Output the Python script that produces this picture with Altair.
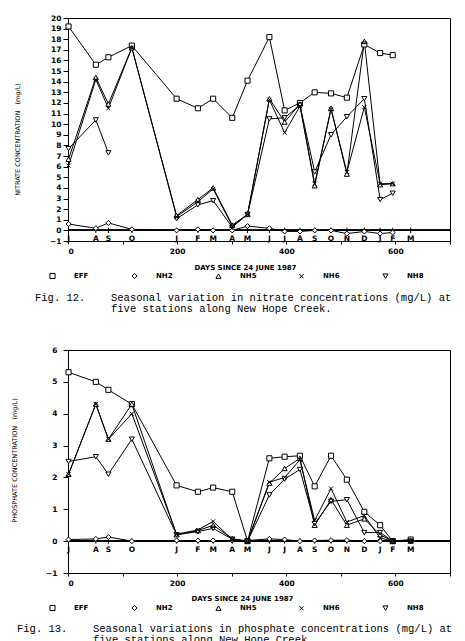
import altair as alt
import pandas as pd

# ---------------- data ----------------
DAYS = [1, 51, 74, 117, 199, 238, 266, 301, 329, 369, 397, 425, 452, 482, 511, 543, 572, 595, 628]
MONTHS = ["J", "A", "S", "O", "J", "F", "M", "A", "M", "J", "J", "A", "S", "O", "N", "D", "J", "F", "M"]
SERIES = ["EFF", "NH2", "NH5", "NH6", "NH8"]
N = None

NITRATE_EFF = [19.2, 15.6, 16.3, 17.4, 12.4, 11.5, 12.4, 10.6, 14.1, 18.2, 11.3, 12.0, 13.0, 12.9, 12.5, 17.5, 16.7, 16.5, N]
NITRATE_NH2 = [0.6, 0.2, 0.7, 0.1, 0.0, 0.1, 0.0, 0.0, 0.4, 0.2, -0.1, -0.1, 0.0, 0.0, -0.3, -0.1, -0.3, -0.2, N]
NITRATE_NH5 = [6.7, 14.4, 11.9, 17.2, 1.4, 2.9, 4.0, 0.5, 1.5, 12.4, 10.2, 11.9, 4.2, 11.5, 5.3, 17.8, 4.3, 4.4, N]
NITRATE_NH6 = [6.1, 14.2, 11.5, 17.2, 1.3, 2.7, 3.9, 0.4, 1.5, 12.3, 9.2, 11.7, 4.4, 11.4, 5.5, 11.6, 4.4, 4.4, N]
NITRATE_NH8 = [7.7, 10.4, 7.3, N, 1.1, 2.4, 2.8, 0.3, 1.5, 10.5, 10.6, 11.8, 5.5, 9.0, 10.7, 12.4, 2.9, 3.5, N]

PHOS_EFF = [5.3, 5.0, 4.75, 4.3, 1.75, 1.55, 1.68, 1.55, 0.0, 2.6, 2.65, 2.68, 1.72, 2.68, 1.93, 0.92, 0.5, 0.0, 0.05]
PHOS_NH2 = [0.05, 0.07, 0.13, 0.0, 0.02, 0.02, 0.02, 0.02, 0.02, 0.07, 0.05, 0.0, 0.02, 0.03, 0.03, 0.0, 0.0, 0.0, 0.0]
PHOS_NH5 = [2.1, 4.3, 3.2, 4.3, 0.2, 0.33, 0.5, 0.08, 0.0, 1.82, 2.28, 2.6, 0.5, 1.3, 0.5, 0.7, 0.2, 0.0, 0.0]
PHOS_NH6 = [2.1, 4.3, 3.2, 4.0, 0.22, 0.35, 0.62, 0.05, 0.0, 1.85, 2.0, 2.55, 0.65, 1.65, 0.6, 0.8, 0.1, 0.0, 0.0]
PHOS_NH8 = [2.5, 2.65, 2.1, 3.2, 0.2, 0.3, 0.4, 0.06, 0.0, 1.45, 1.95, 2.25, 0.55, 1.25, 1.3, 0.27, 0.27, 0.0, 0.0]

X_TITLE = "DAYS SINCE 24 JUNE 1987"
NITRATE_TITLE = "NITRATE CONCENTRATION\u00a0\u00a0\u00a0(mg/L)"
PHOS_TITLE = "PHOSPHATE CONCENTRATION\u00a0\u00a0\u00a0(mg/L)"
CAP12 = ["Fig. 12.", "Seasonal variation in nitrate concentrations (mg/L) at", "five stations along New Hope Creek."]
CAP13 = ["Fig. 13.", "Seasonal variations in phosphate concentrations (mg/L) at", "five stations along New Hope Creek."]


def long_frame(lists):
    rows = []
    for name, vals in zip(SERIES, lists):
        seg = 0
        for d, v in zip(DAYS, vals):
            if v is None:
                seg += 1
                continue
            rows.append({"day": d, "value": v, "series": name, "seg": f"{name}-{seg}"})
    return pd.DataFrame(rows)


nitrate = long_frame([NITRATE_EFF, NITRATE_NH2, NITRATE_NH5, NITRATE_NH6, NITRATE_NH8])
phos = long_frame([PHOS_EFF, PHOS_NH2, PHOS_NH5, PHOS_NH6, PHOS_NH8])
months = pd.DataFrame({"day": DAYS, "m": MONTHS})

AX_FONT = "DejaVu Sans"
CAP_FONT = "Liberation Mono"
X_PATH = "M-0.8,-0.8L0.8,0.8M-0.8,0.8L0.8,-0.8"
SHAPES = ["square", "diamond", "triangle-up", X_PATH, "triangle-down"]


def panel(df, ymin, ymax, ytitle, ytx, yty, xtx, xty, ytick, ylpad, month_y, mtick, caps, cap_x, cap_y):
    x = alt.X(
        "day:Q",
        scale=alt.Scale(domain=[0, 700], nice=False),
        axis=alt.Axis(
            values=list(range(0, 701, 100)),
            labelExpr="datum.value % 200 == 0 ? datum.label : ''",
            title=X_TITLE, titleX=xtx, titleY=xty, titleAlign="center", titleBaseline="middle",
            titleFont=AX_FONT, titleFontSize=7, titleFontWeight="bold", titleColor="black",
            labelFont=AX_FONT, labelFontSize=7.5, labelFontWeight="bold", labelColor="black",
            tickSize=3, labelPadding=3, tickColor="black", domainColor="black", grid=False,
            labelOverlap=False,
        ),
    )
    y = alt.Y(
        "value:Q",
        scale=alt.Scale(domain=[ymin, ymax], nice=False, zero=False),
        axis=alt.Axis(
            values=list(range(ymin, ymax + 1)), labelOverlap=False, labelSeparation=0, labelBound=False,
            labelFlush=False, tickCount=ymax - ymin + 1,
            title=ytitle, titleX=ytx, titleY=yty, titleAngle=-90, titleAlign="center", titleBaseline="middle",
            titleFont=AX_FONT, titleFontSize=6.5, titleFontWeight="normal", titleColor="black",
            labelFont=AX_FONT, labelFontSize=7.5, labelFontWeight="bold", labelColor="black",
            tickSize=ytick, labelPadding=ylpad, tickColor="black", domainColor="black", grid=False,
        ),
    )
    shape_scale = alt.Scale(domain=SERIES, range=SHAPES)
    base = alt.Chart(df)
    lines = base.mark_line(color="black", strokeWidth=1).encode(x=x, y=y, detail="seg:N")
    zero = (
        alt.Chart(months).transform_calculate(value="0")
        .mark_rule(color="black", strokeWidth=1).encode(y=y)
    )
    mticks = (
        alt.Chart(months).transform_calculate(value=str(mtick), value2=str(-mtick))
        .mark_rule(color="black", strokeWidth=1).encode(x=x, y=y, y2="value2:Q")
    )
    fills = base.mark_point(filled=True, color="white", size=26, opacity=1).encode(
        x=x, y=y, shape=alt.Shape("series:N", scale=shape_scale, legend=None)
    )
    pts = base.mark_point(filled=False, color="black", strokeWidth=1, size=26, opacity=1).encode(
        x=x, y=y,
        shape=alt.Shape(
            "series:N", scale=shape_scale,
            legend=alt.Legend(
                orient="none", legendX=-19, legendY=254, direction="horizontal", columns=5,
                title=None, symbolSize=26, symbolStrokeWidth=1, symbolStrokeColor="black",
                labelOffset=18, columnPadding=40, padding=0,
                labelFont=AX_FONT, labelFontSize=7, labelFontWeight="bold", labelColor="black",
            ),
        ),
    )
    mtext = (
        alt.Chart(months).transform_calculate(value=str(month_y))
        .mark_text(font=AX_FONT, fontSize=7.5, fontWeight="bold", color="black")
        .encode(x=x, y=y, text="m:N")
    )
    layers = [lines, zero, mticks, fills, pts, mtext]
    for txt, cx, cy in zip(caps, cap_x, cap_y):
        layers.append(
            alt.Chart(pd.DataFrame({"t": [txt]})).mark_text(
                font=CAP_FONT, fontSize=10.5, align="left", baseline="middle", color="black"
            ).encode(text="t:N", x=alt.value(cx), y=alt.value(cy))
        )
    return (
        alt.layer(*layers)
        .resolve_scale(shape="independent")
        .resolve_legend(shape="independent")
        .properties(width=382, height=223)
    )


top = panel(nitrate, -1, 20, NITRATE_TITLE, -51, 121, 177, 26, 5, 2, -0.8, 0.25,
            CAP12, [-33, 43, 43], [280, 280, 291])
bottom = panel(phos, -1, 6, PHOS_TITLE, -54, 110, 174, 25, 5, 6, -0.28, 0.08,
               CAP13, [-51, 25, 25], [279, 279, 290])

chart = (
    alt.vconcat(top, bottom, spacing=109, bounds="flush")
    .resolve_scale(shape="independent")
    .resolve_legend(shape="independent")
    .properties(padding={"left": 10, "top": 13, "right": 0, "bottom": 0}, background="white")
    .configure_view(stroke="black", strokeWidth=1)
    .configure_axis(labelOverlap=False)
)

chart.save("out.html", embed_options={"renderer": "svg", "actions": False})
